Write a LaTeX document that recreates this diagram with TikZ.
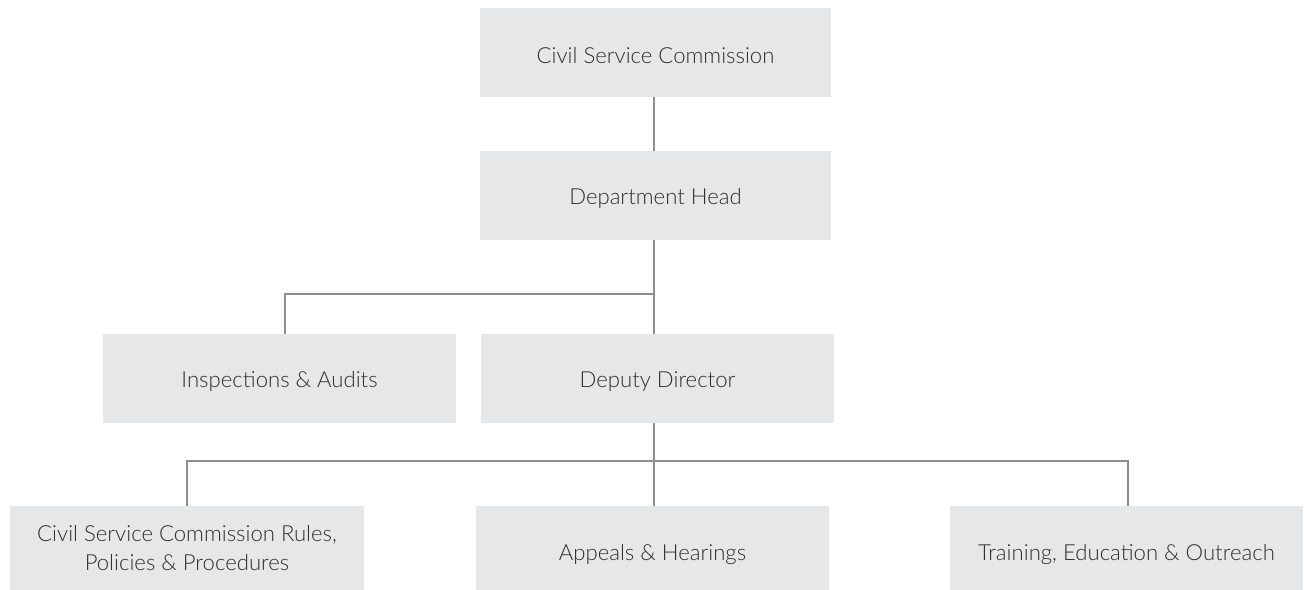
\documentclass[tikz,border=0pt]{standalone}
\usepackage{fontspec}
\setmainfont{Lato}[UprightFont=* Light]
\definecolor{boxgray}{HTML}{E6E7E9}
\definecolor{linegray}{HTML}{8E8E90}
\definecolor{textgray}{HTML}{2E2E2E}
\begin{document}
\begin{tikzpicture}[x=0.02cm, y=-0.02cm, font=\fontsize{12.6}{16.5}\selectfont, line cap=butt, line join=miter]
	\tikzset{
		unit/.style={fill=boxgray, text=textgray, inner sep=0pt, align=center, minimum width=7.05cm, minimum height=1.78cm, execute at begin node={\rule{0pt}{12.6pt}}},
		lowunit/.style={unit, minimum height=1.68cm, execute at begin node={\rule{0pt}{16pt}}},
		link/.style={draw=linegray, line width=1.1pt}
	}
	\useasboundingbox (0,0) rectangle (1304,590);

	% === TOP LEVELS ===
	\node[unit, minimum width=7.02cm] (csc) at (655.5,52.5) {Civil Service Commission};
	\node[unit, minimum width=7.02cm] (head) at (655.5,195.5) {Department Head};

	% === MIDDLE LEVEL ===
	\node[unit] (insp) at (279.5,378.5) {Inspections \& Audits};
	\node[unit] (deputy) at (657.5,378.5) {Deputy Director};

	% === BOTTOM LEVEL ===
	\node[lowunit, minimum width=7.08cm] (rules) at (187,548) {Civil Service Commission Rules,\\Policies \& Procedures};
	\node[lowunit] (appeals) at (652.5,548) {Appeals \& Hearings};
	\node[lowunit] (training) at (1126.5,548) {Training, Education \& Outreach};

	% === CONNECTORS ===
	\coordinate (hj) at (654,294);
	\coordinate (dj) at (654,461);
	\draw[link] (csc.south -| hj) -- (head.north -| hj);
	\draw[link] (head.south -| hj) -- (deputy.north -| hj);
	\draw[link] (hj) -| (insp.north -| 285,0);
	\draw[link] (deputy.south -| dj) -- (dj);
	\draw[link] (dj) -| (rules.north);
	\draw[link] (dj) -- (appeals.north -| dj);
	\draw[link] (dj) -| (training.north -| 1128,0);
\end{tikzpicture}
\end{document}
